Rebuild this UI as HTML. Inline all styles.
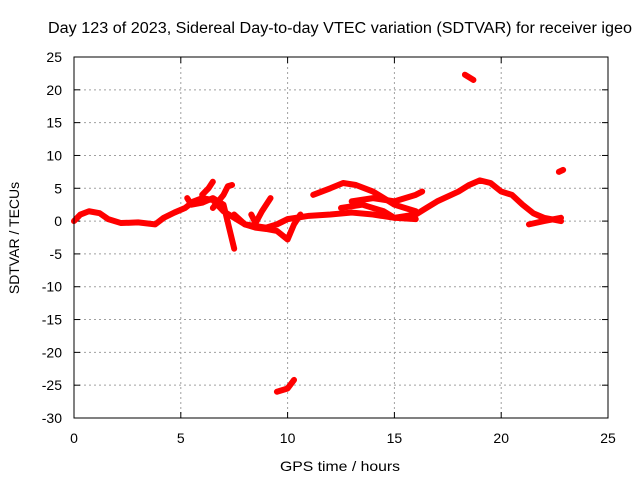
<!DOCTYPE html>
<html><head><meta charset="utf-8"><style>
body{margin:0;background:#fff;}
svg text{font-family:"Liberation Sans",sans-serif;font-size:14px;fill:#000;}
</style></head><body>
<svg id="chart" width="640" height="480">
<text x="340" y="33" text-anchor="middle" textLength="584" lengthAdjust="spacingAndGlyphs" style="font-size:15.5px">Day 123 of 2023, Sidereal Day-to-day VTEC variation (SDTVAR) for receiver igeo</text>
<text x="340" y="471" text-anchor="middle" textLength="120" lengthAdjust="spacingAndGlyphs">GPS time / hours</text>
<text transform="translate(19,238) rotate(-90)" text-anchor="middle">SDTVAR / TECUs</text>
<g id="grid"></g><g id="ticks"></g><g id="series"></g>
<rect x="74" y="57" width="534" height="361" fill="none" stroke="#000"/>
</svg>
<script>
const xTicks=[0,5,10,15,20,25];
const yTicks=[25,20,15,10,5,0,-5,-10,-15,-20,-25,-30];
const trackA=[[0,0],[0.3,1],[0.7,1.5],[1.2,1.2],[1.6,0.3],[2.2,-0.3],[3,-0.2],[3.8,-0.5],[4.2,0.5],[4.7,1.3],[5.2,2],[5.6,3],[6,3.5],[6.5,3.2],[7,1.5],[7.5,0.5],[8,-0.5],[9,-1],[9.5,-0.5],[10,0.3],[11,0.8],[12,1],[13,1.3],[14,1],[15,0.5],[16,1],[16.5,2],[17,3],[18,4.5],[18.5,5.5],[19,6.2],[19.5,5.8],[20,4.5],[20.5,4],[21,2.5],[21.5,1.2],[22,0.5],[22.5,0.2],[22.8,0]];
const trackB=[[5.3,3.5],[5.5,2.5],[6,2.8],[6.5,3.5],[7,2.5],[7.5,-4.2]];
const trackC=[[6,4],[6.3,5],[6.5,6]];
const trackD=[[6.5,2],[7,4],[7.2,5.3],[7.4,5.5]];
const trackE=[[7.5,1],[8,-0.5],[8.5,-1],[9,-1.2],[9.5,-1.5],[10,-2.8],[10.3,-0.5],[10.6,1]];
const trackF=[[8.3,1],[8.5,-0.3],[8.8,1.5],[9.2,3.5]];
const trackG=[[11.2,4],[12,5],[12.6,5.8],[13.2,5.5],[14,4.5],[14.5,3.5],[15,2.5],[15.5,2],[16,1.5]];
const trackH=[[13,3],[14,3.5],[15,3],[15.5,3.5],[16,4],[16.3,4.5]];
const trackI=[[12.5,2],[13.5,2.5],[14.5,1.5],[15,0.5],[16,0.3]];
const trackJ=[[18.3,22.3],[18.7,21.5]];
const trackK=[[9.5,-26],[10,-25.5],[10.3,-24.2]];
const trackL=[[22.7,7.5],[22.9,7.8]];
const trackM=[[21.3,-0.5],[22,0],[22.8,0.5]];
const tracks=[trackA,trackB,trackC,trackD,trackE,trackF,trackG,trackH,trackI,trackJ,trackK,trackL,trackM];
const X=v=>74+(v-0)*(534/25);
const Y=v=>57+(25-v)*(361/55);
const NS="http://www.w3.org/2000/svg";
const grid=document.getElementById('grid'),ticks=document.getElementById('ticks'),ser=document.getElementById('series');
function mk(tag,attrs,parent){const e=document.createElementNS(NS,tag);for(const k in attrs)e.setAttribute(k,attrs[k]);parent.appendChild(e);return e;}
xTicks.forEach(t=>{
 const x=X(t);
 const g=mk('line',{x1:x,x2:x,y1:57,y2:418,stroke:'#a0a0a0','stroke-dasharray':'2,3'},grid);
 
 
 mk('line',{x1:x,x2:x,y1:418,y2:412,stroke:'#000'},ticks);
 mk('line',{x1:x,x2:x,y1:57,y2:63,stroke:'#000'},ticks);
 const tx=mk('text',{x:x,y:443,'text-anchor':'middle'},ticks);tx.textContent=t;
 
 
});
yTicks.forEach(t=>{
 const y=Y(t);
 const g=mk('line',{x1:74,x2:608,y1:y,y2:y,stroke:'#a0a0a0','stroke-dasharray':'2,3'},grid);
 
 
 mk('line',{x1:74,x2:80,y1:y,y2:y,stroke:'#000'},ticks);
 mk('line',{x1:602,x2:608,y1:y,y2:y,stroke:'#000'},ticks);
 const tx=mk('text',{x:62,y:y+5,'text-anchor':'end'},ticks);tx.textContent=t;
 
 
});
tracks.forEach(tr=>{
 const p=mk('polyline',{points:tr.map(d=>X(d[0])+','+Y(d[1])).join(' '),fill:'none',stroke:'#f00','stroke-width':6,'stroke-linejoin':'round','stroke-linecap':'round'},ser);
 
 
});
</script>
</body></html>
